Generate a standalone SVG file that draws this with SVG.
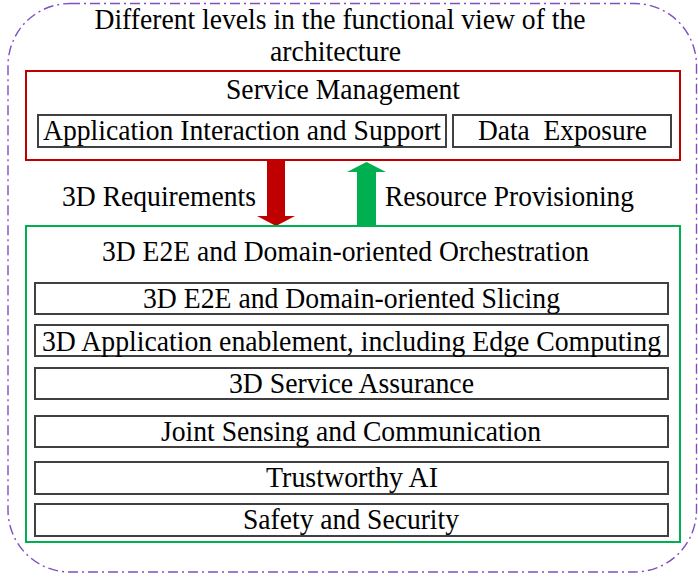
<svg xmlns="http://www.w3.org/2000/svg" width="698" height="577" viewBox="0 0 698 577" font-family="Liberation Serif, Times New Roman, serif">
<style>
text{font-family:"Liberation Serif",serif;font-size:29px;fill:#000;text-anchor:middle}
.box{fill:#fff;stroke:#404040;stroke-width:2}
</style>
<rect width="698" height="577" fill="#fff"/>
<g id="frame">
<rect x="8" y="3.5" width="688.5" height="568.5" rx="62" ry="62" fill="none" stroke="#7f4fbf" stroke-width="1.4" stroke-dasharray="10 4 2 4"/>
<text x="340" y="29" textLength="491" lengthAdjust="spacingAndGlyphs">Different levels in the functional view of the</text>
<text x="335.5" y="61" textLength="131" lengthAdjust="spacingAndGlyphs">architecture</text>
</g>
<g id="service-management">
<rect x="26" y="71" width="654" height="89" fill="#fff" stroke="#c00000" stroke-width="2"/>
<text x="343" y="99" textLength="234" lengthAdjust="spacingAndGlyphs">Service Management</text>
</g>
<g id="app-interaction">
<rect class="box" x="38" y="115" width="408" height="32"/>
<text x="242" y="140" textLength="398" lengthAdjust="spacingAndGlyphs">Application Interaction and Support</text>
</g>
<g id="data-exposure">
<rect class="box" x="453" y="115" width="218" height="32"/>
<text x="562.5" y="140" textLength="169" lengthAdjust="spacingAndGlyphs" xml:space="preserve">Data  Exposure</text>
</g>
<g id="connectors">
<polygon points="267,161 285,161 285,216 295,216 276,226 257,216 267,216" fill="#c00000"/>
<text x="159" y="206" textLength="194" lengthAdjust="spacingAndGlyphs">3D Requirements</text>
<polygon points="366.5,162 386,172 376,172 376,226 357,226 357,172 347,172" fill="#00b050"/>
<text x="509.5" y="206" textLength="249" lengthAdjust="spacingAndGlyphs">Resource Provisioning</text>
</g>
<g id="orchestration">
<rect x="26" y="226" width="654" height="316" fill="none" stroke="#00b050" stroke-width="2"/>
<text x="345.5" y="261" textLength="487" lengthAdjust="spacingAndGlyphs">3D E2E and Domain-oriented Orchestration</text>
</g>
<g id="slicing">
<rect class="box" x="35" y="283" width="633" height="31"/>
<text x="351.5" y="308" textLength="417" lengthAdjust="spacingAndGlyphs">3D E2E and Domain-oriented Slicing</text>
</g>
<g id="app-enablement">
<rect class="box" x="35" y="325" width="633" height="31"/>
<text x="351.5" y="351" textLength="619" lengthAdjust="spacingAndGlyphs">3D Application enablement, including Edge Computing</text>
</g>
<g id="service-assurance">
<rect class="box" x="35" y="368" width="633" height="31"/>
<text x="351.5" y="393" textLength="245" lengthAdjust="spacingAndGlyphs">3D Service Assurance</text>
</g>
<g id="jsac">
<rect class="box" x="35" y="416" width="633" height="31"/>
<text x="351" y="441" textLength="380" lengthAdjust="spacingAndGlyphs">Joint Sensing and Communication</text>
</g>
<g id="trustworthy-ai">
<rect class="box" x="35" y="462" width="633" height="32"/>
<text x="352" y="487" textLength="172" lengthAdjust="spacingAndGlyphs">Trustworthy AI</text>
</g>
<g id="safety">
<rect class="box" x="35" y="504" width="633" height="32"/>
<text x="351" y="529" textLength="216" lengthAdjust="spacingAndGlyphs">Safety and Security</text>
</g>
</svg>
